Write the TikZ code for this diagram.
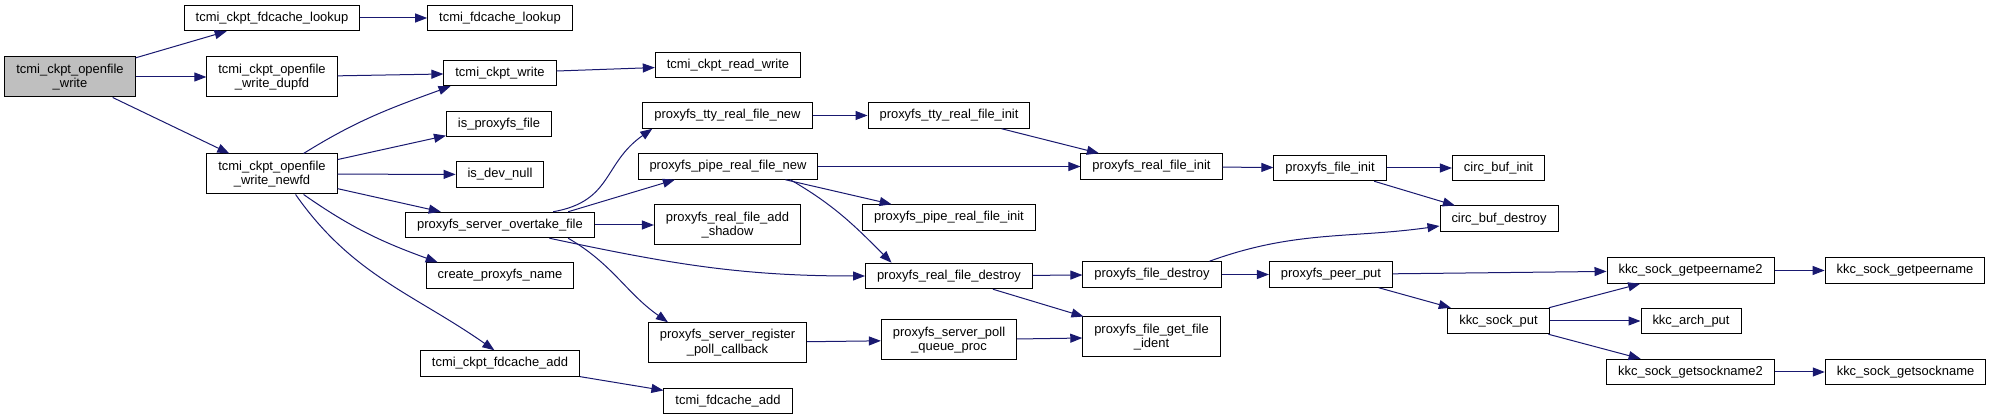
\documentclass[tikz,border=0pt]{standalone}
\usepackage{fontspec}
\setmainfont{Liberation Sans}
\usetikzlibrary{arrows.meta}
\definecolor{dxblue}{HTML}{191970}
\definecolor{dxgray}{HTML}{BFBFBF}
\begin{document}
\begin{tikzpicture}[x=1pt, y=1pt,
    font=\fontsize{12.95}{14.3}\selectfont,
    fn/.style={rectangle, draw, line width=1pt, fill=white, inner xsep=11.5pt, inner ysep=0pt, minimum height=25.5pt, text height=9.6pt, text depth=2.8pt},
    fntwo/.style={rectangle, draw, line width=1pt, fill=white, align=center, inner xsep=11.5pt, inner ysep=0pt, minimum height=40pt},
    mainfn/.style={fntwo, fill=dxgray},
    call/.style={->, draw=dxblue, line width=1pt},
    >={Triangle[length=12pt, width=9pt]}
]
  \fill[white] (0,0) rectangle (1992,420);
  \node[mainfn] (root)        at (70,343)     {tcmi\_ckpt\_openfile\\\_write};
  \node[fn]     (ckptlookup)  at (272,402)    {tcmi\_ckpt\_fdcache\_lookup};
  \node[fn]     (lookup)      at (500,402)    {tcmi\_fdcache\_lookup};
  \node[fntwo]  (dupfd)       at (272,343)    {tcmi\_ckpt\_openfile\\\_write\_dupfd};
  \node[fntwo]  (newfd)       at (272,246)    {tcmi\_ckpt\_openfile\\\_write\_newfd};
  \node[fn]     (ckptwrite)   at (500,347)    {tcmi\_ckpt\_write};
  \node[fn]     (readwrite)   at (728,355)    {tcmi\_ckpt\_read\_write};
  \node[fn]     (isproxyfs)   at (499,296)    {is\_proxyfs\_file};
  \node[fn]     (isdevnull)   at (500,245.5)  {is\_dev\_null};
  \node[fn]     (overtake)    at (500,195)    {proxyfs\_server\_overtake\_file};
  \node[fn]     (createname)  at (500,144.5)  {create\_proxyfs\_name};
  \node[fn]     (ckptadd)     at (500,56.5)   {tcmi\_ckpt\_fdcache\_add};
  \node[fn]     (fdadd)       at (728,19)     {tcmi\_fdcache\_add};
  \node[fn]     (ttynew)      at (727.5,304.5) {proxyfs\_tty\_real\_file\_new};
  \node[fn]     (pipenew)     at (728,253.5)  {proxyfs\_pipe\_real\_file\_new};
  \node[fntwo]  (addshadow)   at (727.5,195)  {proxyfs\_real\_file\_add\\\_shadow};
  \node[fntwo]  (regpoll)     at (727.5,77.3) {proxyfs\_server\_register\\\_poll\_callback};
  \node[fn]     (ttyinit)     at (949,304.5)  {proxyfs\_tty\_real\_file\_init};
  \node[fn]     (pipeinit)    at (949,202.5)  {proxyfs\_pipe\_real\_file\_init};
  \node[fn]     (realdestroy) at (949,144)    {proxyfs\_real\_file\_destroy};
  \node[fntwo]  (pollqueue)   at (949,80)     {proxyfs\_server\_poll\\\_queue\_proc};
  \node[fn]     (realinit)    at (1151.5,253.5) {proxyfs\_real\_file\_init};
  \node[fn]     (filedestroy) at (1152,145.5) {proxyfs\_file\_destroy};
  \node[fntwo]  (getident)    at (1151.5,83)  {proxyfs\_file\_get\_file\\\_ident};
  \node[fn]     (fileinit)    at (1330,252)   {proxyfs\_file\_init};
  \node[fn]     (peerput)     at (1331,145.5) {proxyfs\_peer\_put};
  \node[fn]     (circinit)    at (1498.5,252) {circ\_buf\_init};
  \node[fn]     (circdestroy) at (1499,201.3) {circ\_buf\_destroy};
  \node[fn]     (sockput)     at (1498.5,99)  {kkc\_sock\_put};
  \node[fn]     (getpeer2)    at (1690.5,149.5) {kkc\_sock\_getpeername2};
  \node[fn]     (archput)     at (1691,99)    {kkc\_arch\_put};
  \node[fn]     (getsock2)    at (1690.5,48)  {kkc\_sock\_getsockname2};
  \node[fn]     (getpeer)     at (1905,149.5) {kkc\_sock\_getpeername};
  \node[fn]     (getsock)     at (1905.5,48)  {kkc\_sock\_getsockname};
  \draw[call] (root) -- (ckptlookup);
  \draw[call] (root) -- (dupfd);
  \draw[call] (root) -- (newfd);
  \draw[call] (ckptlookup) -- (lookup);
  \draw[call] (dupfd) -- (ckptwrite);
  \draw[call] (ckptwrite) -- (readwrite);
  \draw[call] (newfd.33) to[out=32, in=200] (ckptwrite.195);
  \draw[call] (newfd) -- (isproxyfs);
  \draw[call] (newfd) -- (isdevnull);
  \draw[call] (newfd) -- (overtake);
  \draw[call] (newfd.-33) to[out=-35, in=160] (createname.168);
  \draw[call] (newfd.-41) to[out=-55, in=145] (ckptadd.113);
  \draw[call] (ckptadd) -- (fdadd);
  \draw[call] (overtake.14) to[out=10, in=215, looseness=1.2] (ttynew.190);
  \draw[call] (overtake.11) -- (pipenew.194);
  \draw[call] (overtake) -- (addshadow);
  \draw[call] (overtake.-15) to[out=-12, in=180] (realdestroy.west);
  \draw[call] (overtake.-11) to[out=-30, in=145] (regpoll.161);
  \draw[call] (ttynew) -- (ttyinit);
  \draw[call] (ttyinit) -- (realinit);
  \draw[call] (pipenew) -- (realinit);
  \draw[call] (pipenew) -- (pipeinit);
  \draw[call] (pipenew.-12) to[out=-30, in=135] (realdestroy.167);
  \draw[call] (regpoll) -- (pollqueue);
  \draw[call] (pollqueue) -- (getident);
  \draw[call] (realdestroy) -- (filedestroy);
  \draw[call] (realdestroy) -- (getident);
  \draw[call] (realinit) -- (fileinit);
  \draw[call] (fileinit) -- (circinit);
  \draw[call] (fileinit) -- (circdestroy);
  \draw[call] (filedestroy.13) to[out=20, in=188] (circdestroy.187);
  \draw[call] (filedestroy) -- (peerput);
  \draw[call] (peerput) -- (getpeer2);
  \draw[call] (peerput) -- (sockput);
  \draw[call] (sockput) -- (getpeer2);
  \draw[call] (sockput) -- (archput);
  \draw[call] (sockput) -- (getsock2);
  \draw[call] (getpeer2) -- (getpeer);
  \draw[call] (getsock2) -- (getsock);
\end{tikzpicture}
\end{document}
